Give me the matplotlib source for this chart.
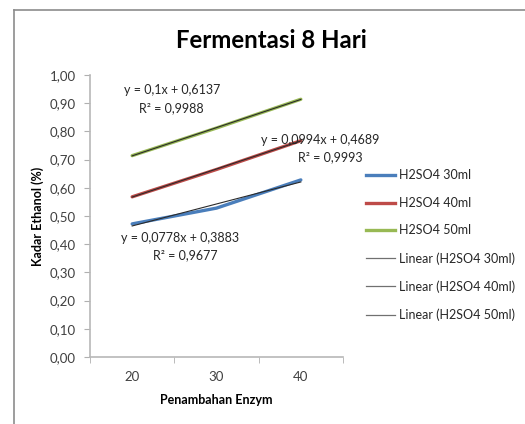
import numpy as np
import matplotlib
matplotlib.use("Agg")
import matplotlib.pyplot as plt
from matplotlib.lines import Line2D

plt.rcParams['font.family'] = ['Lato', 'DejaVu Sans']

categories = ["20", "30", "40"]
h2so4_30 = [0.472, 0.528, 0.628]
h2so4_40 = [0.568, 0.665, 0.767]
h2so4_50 = [0.714, 0.812, 0.914]
series_names = ["H2SO4 30ml", "H2SO4 40ml", "H2SO4 50ml"]
trend_names = ["Linear (H2SO4 30ml)", "Linear (H2SO4 40ml)", "Linear (H2SO4 50ml)"]
eq_texts = [("y = 0,0778x + 0,3883", "R² = 0,9677"),
            ("y = 0,0994x + 0,4689", "R² = 0,9993"),
            ("y = 0,1x + 0,6137", "R² = 0,9988")]
yticks = [0.0, 0.1, 0.2, 0.3, 0.4, 0.5, 0.6, 0.7, 0.8, 0.9, 1.0]
ytick_labels = ["0,00", "0,10", "0,20", "0,30", "0,40", "0,50", "0,60", "0,70", "0,80", "0,90", "1,00"]

colors = ["#4a7ebb", "#be4b48", "#98b954"]

fig = plt.figure(figsize=(5.25, 4.24), dpi=100)
# chart border (left and top visible)
fig.add_artist(Line2D([14/525, 14/525], [0, 1 - 10/424], color="#8c8c8c", lw=1.2))
fig.add_artist(Line2D([14/525, 1], [1 - 10/424, 1 - 10/424], color="#8c8c8c", lw=1.2))

ax = fig.add_axes([90/525, 67/424, 253/525, 282/424])
x = np.arange(1, len(categories) + 1)
all_series = [h2so4_30, h2so4_40, h2so4_50]
for vals, c, name in zip(all_series, colors, series_names):
    ax.plot(x, vals, color=c, lw=2.4, solid_capstyle='round', zorder=2)
for vals in all_series:
    m, b = np.polyfit(x, vals, 1)
    ax.plot(x, m * x + b, color="#2a2a2a", lw=0.8, zorder=3)

ax.set_xlim(0.5, 3.5)
ax.set_ylim(0, 1.0)
ax.set_yticks(yticks)
ax.set_yticklabels(ytick_labels)
ax.set_xticks(x)
ax.set_xticklabels(categories)
ax.set_xticks([0.5, 1.5, 2.5, 3.5], minor=True)
ax.tick_params(axis='x', which='major', length=0, labelsize=9.5, pad=10, colors="#404040")
ax.tick_params(axis='x', which='minor', length=4, color="#b0b0b0")
ax.tick_params(axis='y', length=4, color="#b0b0b0", labelsize=9.5, labelcolor="#404040", pad=6)
for s in ['top', 'right']:
    ax.spines[s].set_visible(False)
for s in ['left', 'bottom']:
    ax.spines[s].set_color("#b8b8b8")
    ax.spines[s].set_linewidth(1.2)

ax.set_ylabel("Kadar Ethanol (%)", fontsize=9, fontweight='bold', labelpad=4)
ax.set_xlabel("Penambahan Enzym", fontsize=9, fontweight='bold', labelpad=8)

# equation labels
pos = [((1.57, 0.422), (1.63, 0.362)),
       ((3.23, 0.770), (3.35, 0.709)),
       ((1.47, 0.947), (1.47, 0.883))]
for (eq, r2), (p1, p2) in zip(eq_texts, pos):
    ax.text(p1[0], p1[1], eq, ha='center', va='center', fontsize=9, color="#262626", clip_on=False)
    ax.text(p2[0], p2[1], r2, ha='center', va='center', fontsize=9, color="#262626", clip_on=False)

fig.text(271/525, 1 - 41/424, "Fermentasi 8 Hari", ha='center', va='center', fontsize=17.3, fontweight='bold')

handles = [Line2D([], [], color=c, lw=2.4) for c in colors] + \
          [Line2D([], [], color="#707070", lw=0.9) for _ in range(3)]
labels = series_names + trend_names
fig.legend(handles, labels, loc='upper left', bbox_to_anchor=(355/525, 1 - 158/424),
           frameon=False, fontsize=9, handlelength=2.3, handletextpad=0.3, labelspacing=1.25,
           labelcolor="#262626")

fig.savefig("out.png", dpi=100)
